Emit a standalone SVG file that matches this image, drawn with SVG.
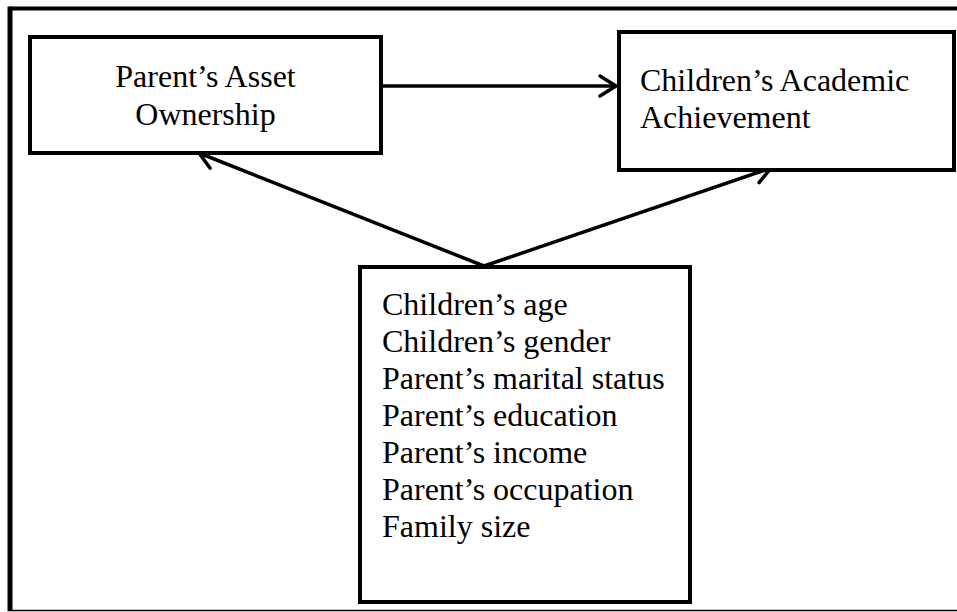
<svg xmlns="http://www.w3.org/2000/svg" width="957" height="612" viewBox="0 0 957 612">
<style>
.box{fill:#fff;stroke:#000;stroke-width:4}
.t{font-family:"Liberation Serif","Times New Roman",serif;font-size:32px;fill:#000}
.c{stroke:#000;stroke-width:3.5;fill:none}
</style>
<defs>
<marker id="ah" markerUnits="userSpaceOnUse" viewBox="-20 -13 24 26" markerWidth="24" markerHeight="26" refX="0" refY="0" orient="auto">
<path d="M-16,-10 L0,0 L-16,10" fill="none" stroke="#000" stroke-width="3.5" stroke-linecap="round" stroke-linejoin="miter"/>
</marker>
</defs>
<rect width="957" height="612" fill="#fff"/>
<g id="frame">
<line x1="10" y1="8.5" x2="957" y2="8.5" stroke="#000" stroke-width="4"/>
<line x1="10" y1="6.5" x2="10" y2="611" stroke="#000" stroke-width="5"/>
<line x1="8" y1="610.5" x2="957" y2="610.5" stroke="#000" stroke-width="1.5"/>
</g>
<g id="connectors">
<line class="c" x1="381" y1="86" x2="616" y2="86" marker-end="url(#ah)"/>
<line class="c" x1="484" y1="266" x2="199" y2="153" marker-end="url(#ah)"/>
<line class="c" x1="484" y1="266" x2="771" y2="168" marker-end="url(#ah)"/>
</g>
<g id="asset">
<rect class="box" x="30" y="37" width="351" height="116"/>
<text class="t" x="205.5" y="87" text-anchor="middle">Parent’s Asset</text>
<text class="t" x="205.5" y="125" text-anchor="middle">Ownership</text>
</g>
<g id="achievement">
<rect class="box" x="619" y="32" width="335" height="138"/>
<text class="t" x="640" y="91">Children’s Academic</text>
<text class="t" x="640" y="128">Achievement</text>
</g>
<g id="controls">
<rect class="box" x="360" y="267" width="330" height="335"/>
<text class="t" x="382" y="315">Children’s age</text>
<text class="t" x="382" y="352">Children’s gender</text>
<text class="t" x="382" y="389">Parent’s marital status</text>
<text class="t" x="382" y="426">Parent’s education</text>
<text class="t" x="382" y="463">Parent’s income</text>
<text class="t" x="382" y="500">Parent’s occupation</text>
<text class="t" x="382" y="537">Family size</text>
</g>
</svg>
